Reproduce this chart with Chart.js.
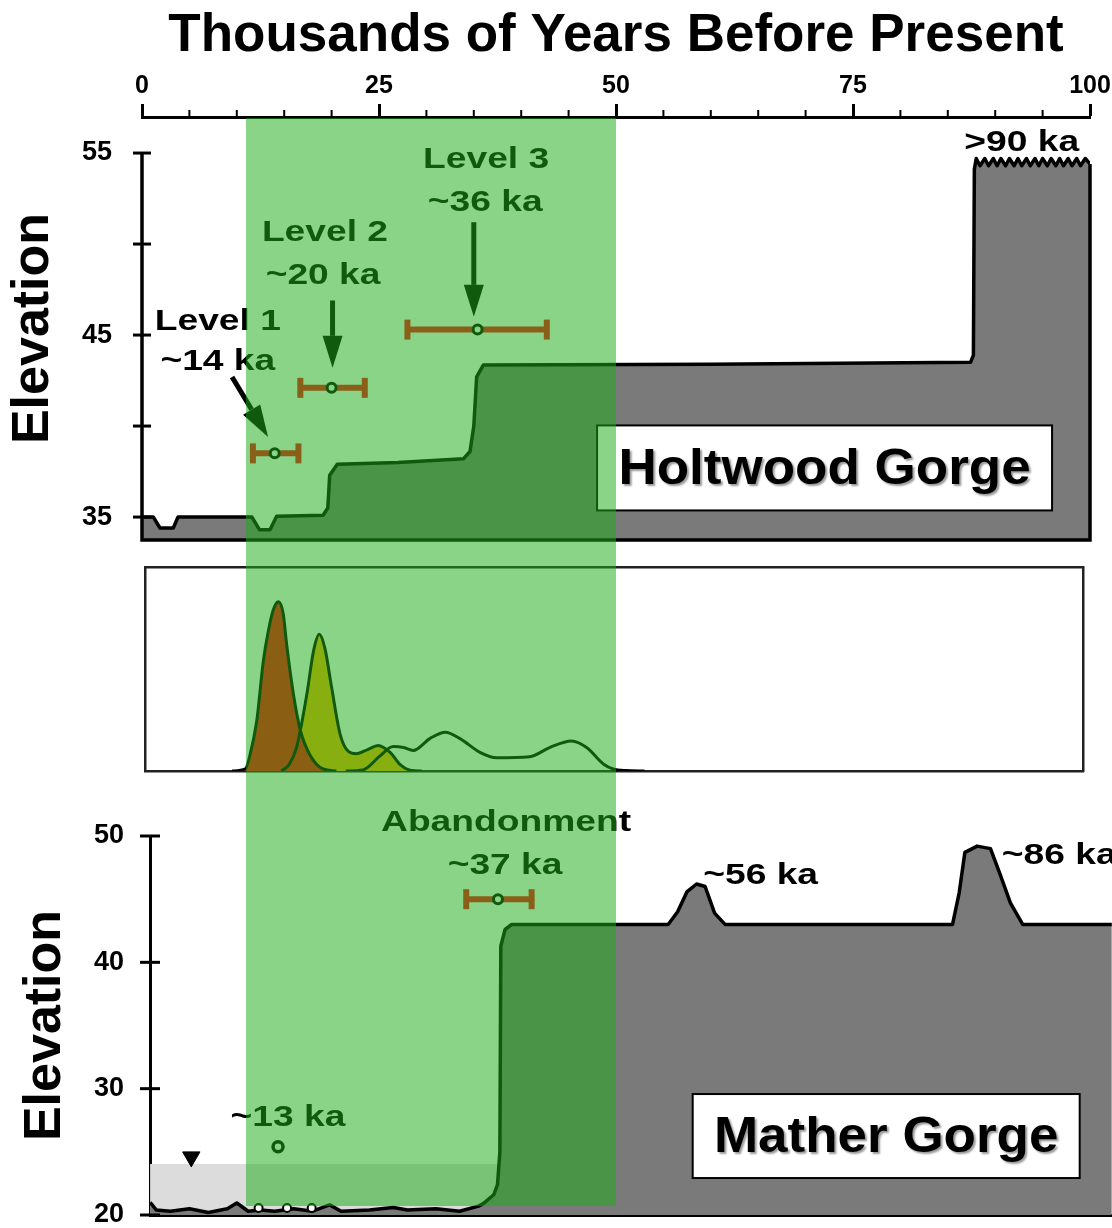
<!DOCTYPE html>
<html>
<head>
<meta charset="utf-8">
<script src="https://cdn.jsdelivr.net/npm/chart.js@4.4.1/dist/chart.umd.min.js"></script>
<style>
  html, body { margin: 0; padding: 0; background: #fff; }
  #wrap { position: relative; width: 1112px; height: 1228px; overflow: hidden; }
  canvas { position: absolute; left: 0; }
</style>
</head>
<body>
<div id="wrap">
  <canvas id="holtwood" width="1112" height="556" style="top:0"></canvas>
  <canvas id="density" width="1112" height="244" style="top:556px"></canvas>
  <canvas id="mather" width="1112" height="428" style="top:800px"></canvas>
</div>
<script>
// ---------- data (ka = thousands of years before present) ----------
const bandKa = [11, 50];

// Holtwood Gorge strath profile
const holtKa = [0, 1.2, 1.9, 3.3, 3.8, 11.6, 12.4, 13.5, 14.2, 19.1, 19.6, 19.8, 20.6, 27.0, 33.9, 34.6, 35.0, 35.3, 36.0,
  60.0, 87.4, 87.7, 87.8, 88.0, 88.4, 88.9, 89.3, 89.8, 90.2, 90.6, 91.1, 91.5, 92.0, 92.4, 92.8, 93.3, 93.7, 94.2,
  94.6, 95.0, 95.5, 95.9, 96.4, 96.8, 97.2, 97.7, 98.1, 98.6, 99.0, 99.5, 100];
const holtElev = [35.0, 35.0, 34.4, 34.4, 35.0, 35.0, 34.3, 34.3, 35.05, 35.1, 35.5, 37.3, 37.9, 38.0, 38.2, 38.6, 40.0, 42.7, 43.35,
  43.4, 43.5, 43.9, 54.1, 54.7, 54.3, 54.7, 54.3, 54.7, 54.3, 54.7, 54.3, 54.7, 54.3, 54.7, 54.3, 54.7, 54.3, 54.7,
  54.3, 54.7, 54.3, 54.7, 54.3, 54.7, 54.3, 54.7, 54.3, 54.7, 54.3, 54.7, 54.4];
const holtTicks = [35, 40, 45, 50, 55];

// terrace levels: age, 2-sigma range, elevation
const levelAge = [14.0, 20.0, 35.4];
const levelLo = [11.7, 16.7, 28.0];
const levelHi = [16.5, 23.5, 42.7];
const levelElev = [38.5, 42.1, 45.3];

// relative probability of exposure ages
const peak1Ka = [9.5, 10.9, 11.4, 12.1, 12.8, 13.3, 13.85, 14.38, 14.9, 15.26, 15.96, 16.7, 17.7, 19.1, 20.5];
const peak1P = [0, 0.01, 0.08, 0.245, 0.54, 0.68, 0.79, 0.83, 0.77, 0.62, 0.38, 0.2, 0.08, 0.01, 0];
const peak2Ka = [14.7, 15.5, 16.3, 17.4, 18.1, 18.7, 19.3, 20.0, 20.9, 21.8, 22.6, 23.8, 24.9, 26.2, 27.2, 28.4, 29.5];
const peak2P = [0, 0.03, 0.115, 0.38, 0.59, 0.67, 0.6, 0.41, 0.18, 0.095, 0.085, 0.105, 0.125, 0.09, 0.033, 0.003, 0];
const peak3Ka = [21.5, 23.3, 25.1, 26.5, 27.6, 28.6, 30.4, 32.0, 33.5, 35.7, 37.4, 40.9, 43.0, 45.3, 46.9, 48.7, 49.7, 51.0, 53.0];
const peak3P = [0, 0.005, 0.074, 0.12, 0.115, 0.10, 0.16, 0.19, 0.16, 0.09, 0.065, 0.07, 0.115, 0.147, 0.115, 0.033, 0.01, 0.002, 0];

// Mather Gorge profile
const mathKa = [0.85, 1.5, 3, 5, 7, 9, 10.0, 11.2, 12.5, 14, 16, 18, 19.8, 21, 24, 26.5, 28, 31, 33.5, 35.5,
  36.0, 37.1, 37.5, 37.75, 37.85, 38.3, 39.0, 55.5, 56.5, 57.5, 58.5, 59.4, 60.4, 61.5, 85.5, 86.2, 86.8, 88.1, 89.5, 90.5,
  91.6, 92.9, 102.3];
const mathElev = [21.0, 20.4, 20.3, 20.5, 20.2, 20.5, 20.95, 20.3, 20.4, 20.3, 20.5, 20.3, 20.8, 20.3, 20.4, 20.6, 20.4, 20.5, 20.3, 20.7,
  20.9, 21.6, 22.4, 25.0, 41.3, 42.6, 43.0, 43.0, 44.0, 45.6, 46.2, 46.0, 43.9, 43.0, 43.0, 45.5, 48.7, 49.2, 49.0, 47.0,
  44.7, 43.0, 43.0];
const mathTicks = [20, 30, 40, 50];
const waterKa = [0.85, 37.6];
const waterElev = [24.04, 24.04];
const waterMarkKa = [5.2];
const waterMarkElev = [24.6];
const sampleKa = [12.3, 15.3, 17.9];
const sampleElev = [20.55, 20.55, 20.55];
const youngKa = [14.35];
const youngElev = [25.4];
const abandonAge = [37.55];
const abandonLo = [34.2];
const abandonHi = [41.1];
const abandonElev = [45.0];

// ---------- styles ----------
const INK = '#000';
const ROCK = '#7a7a7a';
const BAR = 'rgb(255,12,26)';
const BAND = 'rgba(30,172,24,0.52)';
const FONT = "'Liberation Sans', Arial, sans-serif";

Chart.defaults.font.family = FONT;
Chart.defaults.color = INK;

const pts = (xs, ys) => xs.map((v, i) => ({x: v, y: ys[i]}));

function errorBars(lo, hi, elev, order) {
  return lo.map((l, i) => ({
    label: 'range',
    data: [{x: l, y: elev[i]}, {x: hi[i], y: elev[i]}],
    borderColor: BAR, borderWidth: 6,
    pointStyle: 'line', pointRotation: 90, pointRadius: 10,
    pointBorderWidth: 6, pointBorderColor: BAR,
    order: order
  }));
}

function dots(xs, ys, r, w, order) {
  return {
    label: 'dates', type: 'scatter', data: pts(xs, ys),
    pointRadius: r, pointBorderWidth: w, pointBorderColor: INK, pointBackgroundColor: '#fff',
    order: order
  };
}

// fixed scale box sizes, no extra padding from tick labels
const fixWidth = w => s => { s.width = w; s.paddingTop = 0; s.paddingBottom = 0; };
const fixHeight = h => s => { s.height = h; s.paddingLeft = 0; s.paddingRight = 0; };

// ---------- plugins ----------
function bandPlugin(top, bottom) {
  return {
    id: 'band',
    afterDraw(chart) {
      const x = chart.scales.x, ctx = chart.ctx;
      const x0 = Math.round(x.getPixelForValue(bandKa[0]));
      const x1 = Math.round(x.getPixelForValue(bandKa[1]));
      const b = bottom == null ? chart.height : bottom;
      ctx.save();
      ctx.fillStyle = BAND;
      ctx.fillRect(x0, top, x1 - x0, b - top);
      ctx.restore();
    }
  };
}

function axisMarks(opts) {
  return {
    id: 'axisMarks',
    afterDatasetsDraw(chart) {
      const {ctx, chartArea} = chart;
      const x = chart.scales.x, y = chart.scales.y;
      ctx.save();
      ctx.strokeStyle = INK;
      if (opts.cross) {
        const sx = x.getPixelForValue(opts.spineKa);
        ctx.lineWidth = 3;
        y.ticks.forEach(t => {
          const py = y.getPixelForValue(t.value);
          ctx.beginPath();
          ctx.moveTo(sx - opts.cross, py);
          ctx.lineTo(sx + opts.cross, py);
          ctx.stroke();
        });
      }
      if (opts.minorX) {
        ctx.lineWidth = 2;
        x.ticks.forEach(t => {
          if (t.value % 25 === 0) return;
          const px = x.getPixelForValue(t.value);
          ctx.beginPath();
          ctx.moveTo(px, chartArea.top);
          ctx.lineTo(px, chartArea.top - opts.minorX);
          ctx.stroke();
        });
      }
      ctx.restore();
    }
  };
}

function notesPlugin(notes, boxes, arrows) {
  return {
    id: 'notes',
    afterDatasetsDraw(chart) {
      const ctx = chart.ctx;
      const x = chart.scales.x, y = chart.scales.y;
      ctx.save();
      ctx.fillStyle = INK;
      ctx.strokeStyle = INK;
      arrows.forEach(a => {
        const x0 = x.getPixelForValue(a.from[0]), y0 = y.getPixelForValue(a.from[1]);
        const x1 = x.getPixelForValue(a.to[0]), y1 = y.getPixelForValue(a.to[1]);
        const ang = Math.atan2(y1 - y0, x1 - x0);
        const head = 32, half = 10;
        const bx = x1 - head * Math.cos(ang), by = y1 - head * Math.sin(ang);
        ctx.lineWidth = 5;
        ctx.beginPath();
        ctx.moveTo(x0, y0);
        ctx.lineTo(bx, by);
        ctx.stroke();
        ctx.beginPath();
        ctx.moveTo(x1, y1);
        ctx.lineTo(bx + half * Math.sin(ang), by - half * Math.cos(ang));
        ctx.lineTo(bx - half * Math.sin(ang), by + half * Math.cos(ang));
        ctx.closePath();
        ctx.fill();
      });
      boxes.forEach(b => {
        const cx = x.getPixelForValue(b.ka), cy = y.getPixelForValue(b.elev);
        ctx.fillStyle = '#fff';
        ctx.fillRect(cx - b.w / 2, cy - b.h / 2, b.w, b.h);
        ctx.lineWidth = 2;
        ctx.strokeRect(cx - b.w / 2, cy - b.h / 2, b.w, b.h);
        ctx.save();
        ctx.translate(cx, cy + 2);
        ctx.scale(1.06, 1);
        ctx.font = 'bold 50px ' + FONT;
        ctx.textAlign = 'center';
        ctx.textBaseline = 'middle';
        ctx.shadowColor = 'rgba(0,0,0,0.4)';
        ctx.shadowOffsetX = 2;
        ctx.shadowOffsetY = 2;
        ctx.shadowBlur = 2;
        ctx.fillStyle = INK;
        ctx.fillText(b.text, 0, 0);
        ctx.restore();
      });
      notes.forEach(n => {
        ctx.save();
        ctx.translate(x.getPixelForValue(n.ka), y.getPixelForValue(n.elev) + 1);
        ctx.scale(1.24, 1);
        ctx.font = 'bold 30px ' + FONT;
        ctx.textAlign = n.align || 'center';
        ctx.textBaseline = 'middle';
        ctx.fillStyle = INK;
        ctx.fillText(n.text, 0, 0);
        ctx.restore();
      });
      ctx.restore();
    }
  };
}

const base = {
  responsive: false,
  animation: false,
  devicePixelRatio: 1,
  events: []
};
const quiet = {legend: {display: false}, tooltip: {enabled: false}};

// ---------- Holtwood Gorge ----------
const holtNotes = [
  {text: 'Level 1', ka: 8.0, elev: 45.8},
  {text: '~14 ka', ka: 8.0, elev: 43.6},
  {text: 'Level 2', ka: 19.3, elev: 50.7},
  {text: '~20 ka', ka: 19.1, elev: 48.3},
  {text: 'Level 3', ka: 36.3, elev: 54.7},
  {text: '~36 ka', ka: 36.2, elev: 52.3},
  {text: '>90 ka', ka: 92.8, elev: 55.6}
];
const holtBoxes = [{text: 'Holtwood Gorge', ka: 72.0, elev: 37.7, w: 455, h: 85}];
const holtArrows = [
  {from: [9.5, 42.7], to: [13.3, 39.4]},
  {from: [20.1, 46.9], to: [20.1, 43.2]},
  {from: [35.0, 51.2], to: [35.0, 46.0]}
];

new Chart(document.getElementById('holtwood'), {
  type: 'line',
  data: {
    datasets: [
      dots(levelAge, levelElev, 4.5, 3, 0),
      ...errorBars(levelLo, levelHi, levelElev, 1),
      {
        label: 'frame', data: pts([0, 0, 100, 100], [55, 33.74, 33.74, 54.4]),
        borderColor: INK, borderWidth: 3.5, pointRadius: 0, fill: false, clip: false, order: 2
      },
      {
        label: 'Holtwood Gorge', data: pts(holtKa, holtElev),
        borderColor: INK, borderWidth: 3.5, borderJoinStyle: 'round',
        backgroundColor: ROCK, fill: 'start', pointRadius: 0, tension: 0, order: 3
      }
    ]
  },
  options: {
    ...base,
    layout: {autoPadding: false, padding: {left: 0, right: 22, top: 0, bottom: 16}},
    plugins: quiet,
    scales: {
      x: {
        type: 'linear', position: 'top', min: 0, max: 100,
        afterFit: fixHeight(117),
        ticks: {
          stepSize: 5, autoSkip: false, maxRotation: 0, padding: 3,
          font: {size: 25, weight: 'bold'},
          callback: v => (v % 25 === 0 ? v : '')
        },
        grid: {
          drawOnChartArea: false, drawTicks: true, tickLength: 13, tickWidth: 3,
          tickColor: c => (c.tick && c.tick.value % 25 === 0 ? INK : 'rgba(0,0,0,0)')
        },
        border: {display: true, color: INK, width: 3},
        title: {
          display: true, text: 'Thousands of Years Before Present',
          font: {size: 53, weight: 'bold'}, padding: {top: 5, bottom: 0}
        }
      },
      y: {
        type: 'linear', min: 33.74, max: 56.98,
        afterFit: fixWidth(142),
        afterBuildTicks: s => { s.ticks = holtTicks.map(v => ({value: v})); },
        ticks: {padding: 22, font: {size: 27, weight: 'bold'}, callback: v => (v % 10 === 5 ? v : '')},
        grid: {display: false},
        border: {display: false},
        title: {display: true, text: 'Elevation', font: {size: 52, weight: 'bold'}, padding: {top: 2, bottom: 0}}
      }
    }
  },
  plugins: [axisMarks({cross: 9, spineKa: 0, minorX: 7}), notesPlugin(holtNotes, holtBoxes, holtArrows), bandPlugin(118)]
});

// ---------- age probability curves ----------
const frameAxis = {
  display: true, z: 1,
  ticks: {display: false},
  grid: {display: false},
  border: {display: true, color: '#222', width: 2.5}
};
new Chart(document.getElementById('density'), {
  type: 'line',
  data: {
    datasets: [
      {
        label: 'Level 1', data: pts(peak1Ka, peak1P), borderColor: INK, borderWidth: 3,
        backgroundColor: 'rgb(255,12,16)', fill: 'origin', pointRadius: 0, cubicInterpolationMode: 'monotone'
      },
      {
        label: 'Level 2', data: pts(peak2Ka, peak2P), borderColor: INK, borderWidth: 3,
        backgroundColor: 'rgb(249,178,5)', fill: 'origin', pointRadius: 0, cubicInterpolationMode: 'monotone'
      },
      {
        label: 'Level 3', data: pts(peak3Ka, peak3P), borderColor: INK, borderWidth: 3,
        fill: false, pointRadius: 0, cubicInterpolationMode: 'monotone'
      }
    ]
  },
  options: {
    ...base,
    layout: {autoPadding: false, padding: {left: 145, right: 29, top: 11, bottom: 29}},
    plugins: {...quiet, filler: {drawTime: 'beforeDatasetsDraw'}},
    scales: {
      x: {...frameAxis, type: 'linear', position: 'bottom', min: 0.316, max: 99.26, afterFit: fixHeight(0)},
      xTop: {...frameAxis, type: 'linear', position: 'top', min: 0.316, max: 99.26, afterFit: fixHeight(0)},
      y: {...frameAxis, type: 'linear', position: 'left', min: 0, max: 1, afterFit: fixWidth(0)},
      yRight: {...frameAxis, type: 'linear', position: 'right', min: 0, max: 1, afterFit: fixWidth(0)}
    }
  },
  plugins: [bandPlugin(0)]
});

// ---------- Mather Gorge ----------
const mathNotes = [
  {text: 'Abandonment', ka: 38.4, elev: 51.1},
  {text: '~37 ka', ka: 38.3, elev: 47.7},
  {text: '~13 ka', ka: 15.4, elev: 27.8},
  {text: '~56 ka', ka: 59.2, elev: 46.9, align: 'left'},
  {text: '~86 ka', ka: 90.7, elev: 48.5, align: 'left'}
];
const mathBoxes = [{text: 'Mather Gorge', ka: 78.5, elev: 26.25, w: 387, h: 84}];

new Chart(document.getElementById('mather'), {
  type: 'line',
  data: {
    datasets: [
      dots(youngKa, youngElev, 5, 3.5, 0),
      dots(sampleKa, sampleElev, 4, 2, 0),
      dots(abandonAge, abandonElev, 4.5, 3, 0),
      ...errorBars(abandonLo, abandonHi, abandonElev, 1),
      {
        label: 'water level', type: 'scatter', data: pts(waterMarkKa, waterMarkElev),
        pointStyle: 'triangle', pointRotation: 180, pointRadius: 10,
        pointBackgroundColor: INK, pointBorderColor: INK, pointBorderWidth: 1, order: 2
      },
      {
        label: 'Mather Gorge', data: pts(mathKa, mathElev),
        borderColor: INK, borderWidth: 3.5, borderJoinStyle: 'round',
        backgroundColor: ROCK, fill: 'start', pointRadius: 0, tension: 0, order: 3
      },
      {
        label: 'river', data: pts(waterKa, waterElev),
        borderWidth: 0, backgroundColor: '#dcdcdc', fill: 'start', pointRadius: 0, order: 4
      }
    ]
  },
  options: {
    ...base,
    layout: {autoPadding: false, padding: {left: 0, right: 0, top: 36, bottom: 13}},
    plugins: quiet,
    scales: {
      x: {
        type: 'linear', min: 0.844, max: 102.32, z: 1,
        afterFit: fixHeight(0),
        ticks: {display: false},
        grid: {display: false},
        border: {display: true, color: INK, width: 3}
      },
      y: {
        type: 'linear', min: 20, max: 50, z: 1,
        afterFit: fixWidth(150),
        afterBuildTicks: s => { s.ticks = mathTicks.map(v => ({value: v})); },
        ticks: {padding: 18, font: {size: 27, weight: 'bold'}},
        grid: {display: false},
        border: {display: true, color: INK, width: 3},
        title: {display: true, text: 'Elevation', font: {size: 52, weight: 'bold'}, padding: {top: 14, bottom: 0}}
      }
    }
  },
  plugins: [axisMarks({cross: 10, spineKa: 0.844}), notesPlugin(mathNotes, mathBoxes, []), bandPlugin(0, 406)]
});
</script>
</body>
</html>
